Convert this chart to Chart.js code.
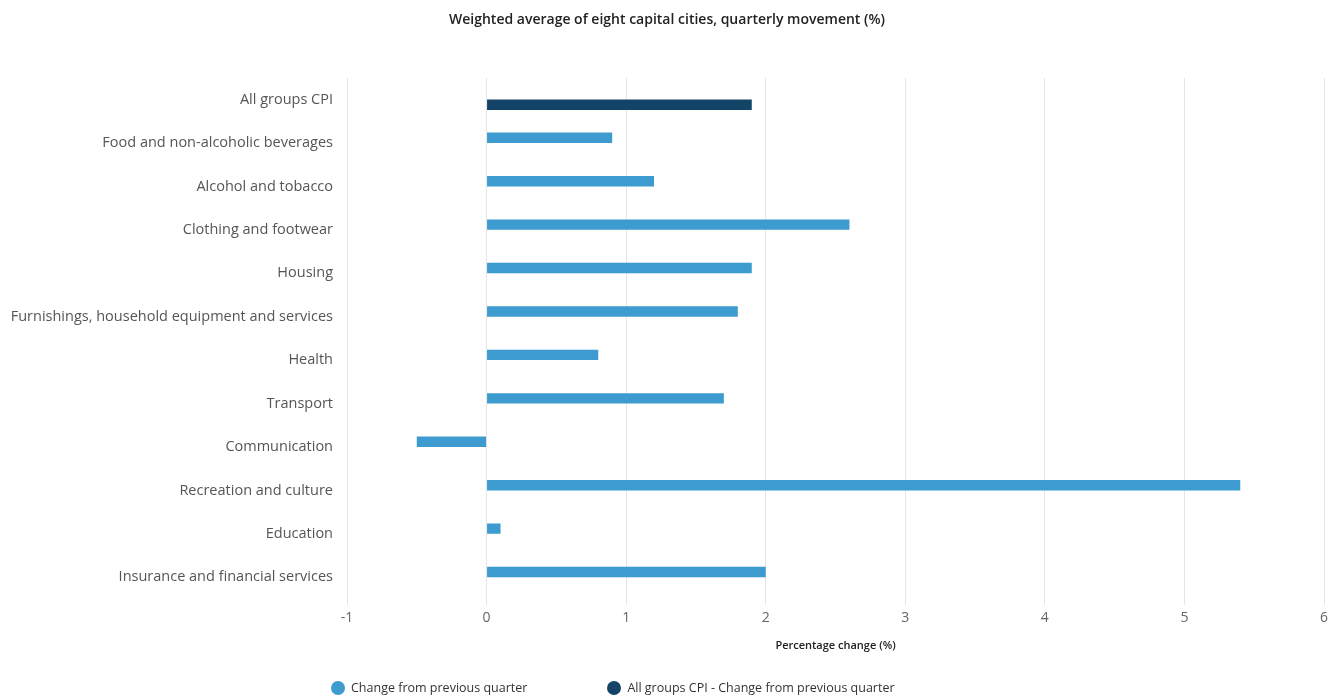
<!DOCTYPE html>
<html>
<head>
<meta charset="utf-8">
<script src="https://cdn.jsdelivr.net/npm/chart.js@4.4.1/dist/chart.umd.min.js"></script>
<style>
  html, body { margin: 0; padding: 0; background: #fff; }
  #wrap { position: relative; width: 1334px; height: 697px; }
  #legend {
    position: absolute; left: 331px; top: 679px;
    font: 12.5px "Open Sans", sans-serif; color: #333;
    display: flex; gap: 80px; white-space: nowrap;
  }
  #legend span.dot {
    display: inline-block; width: 14px; height: 14px; border-radius: 50%;
    vertical-align: -3px; margin-right: 6px;
  }
</style>
</head>
<body>
<div id="wrap">
  <canvas id="chart" width="1334" height="697"></canvas>
  <div id="legend"></div>
</div>
<script>
  // Daten
  // ----------------------------------------------------------------------------------------
  const categories = [
    'All groups CPI',
    'Food and non-alcoholic beverages',
    'Alcohol and tobacco',
    'Clothing and footwear',
    'Housing',
    'Furnishings, household equipment and services',
    'Health',
    'Transport',
    'Communication',
    'Recreation and culture',
    'Education',
    'Insurance and financial services'
  ];
  const groupChange = [null, 0.9, 1.2, 2.6, 1.9, 1.8, 0.8, 1.7, -0.5, 5.4, 0.1, 2.0];
  const allGroupsChange = [1.9, null, null, null, null, null, null, null, null, null, null, null];
  const xTicks = [-1, 0, 1, 2, 3, 4, 5, 6];

  const seriesNames = ['Change from previous quarter', 'All groups CPI - Change from previous quarter'];
  const seriesColors = ['#3d9bd0', '#134468'];

  // Chart
  // ----------------------------------------------------------------------------------------
  const ctx = document.getElementById('chart').getContext('2d');
  new Chart(ctx, {
    type: 'bar',
    data: {
      labels: categories,
      datasets: [
        { label: seriesNames[0], data: groupChange, backgroundColor: seriesColors[0] },
        { label: seriesNames[1], data: allGroupsChange, backgroundColor: seriesColors[1] }
      ]
    },
    options: {
      indexAxis: 'y',
      responsive: false,
      animation: false,
      categoryPercentage: 0.48,
      barPercentage: 1.0,
      layout: { padding: { left: 10, right: 10, top: 0, bottom: 45 } },
      plugins: {
        legend: { display: false },
        tooltip: { enabled: false },
        title: {
          display: true,
          text: 'Weighted average of eight capital cities, quarterly movement (%)',
          color: '#222',
          font: { family: 'Open Sans', size: 14, weight: '600' },
          padding: { top: 12, bottom: 49 }
        }
      },
      scales: {
        x: {
          min: -1, max: 6,
          afterBuildTicks: (axis) => { axis.ticks = xTicks.map(v => ({ value: v })); },
          grid: { color: '#e6e6e6', tickLength: 6 },
          border: { display: false },
          ticks: { color: '#666', font: { family: 'Open Sans', size: 14 }, padding: 5 },
          title: {
            display: true,
            text: 'Percentage change (%)',
            color: '#222',
            font: { family: 'Open Sans', size: 11, weight: '600' },
            padding: { top: 7, bottom: 0 }
          }
        },
        y: {
          afterFit: (axis) => { axis.width = 337; },
          grid: { display: false, drawTicks: false, tickLength: 0 },
          border: { display: false },
          ticks: { color: '#555', font: { family: 'Open Sans', size: 14.5 }, padding: 14 }
        }
      }
    }
  });

  // Legende
  // ----------------------------------------------------------------------------------------
  const legendEl = document.getElementById('legend');
  seriesNames.forEach((name, i) => {
    const item = document.createElement('div');
    item.innerHTML = `<span class="dot" style="background:${seriesColors[i]}"></span>${name}`;
    legendEl.appendChild(item);
  });
</script>
</body>
</html>
